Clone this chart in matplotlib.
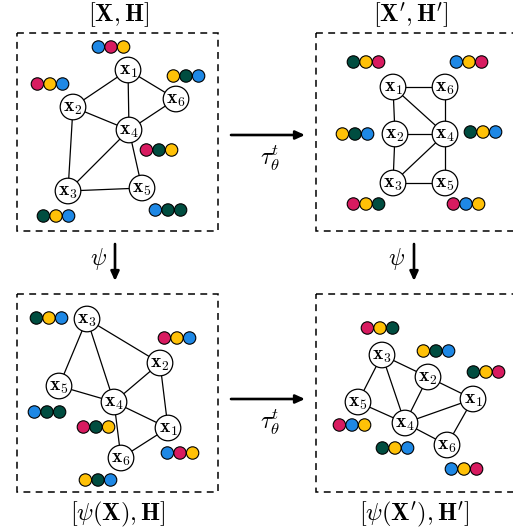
import matplotlib
matplotlib.use("Agg")
import matplotlib.pyplot as plt
from matplotlib.patches import Circle, Rectangle

plt.rcParams["mathtext.fontset"] = "cm"
plt.rcParams["font.family"] = "serif"

BLUE, PINK, YELLOW, GREEN = "#1E88E5", "#D81B60", "#FFC107", "#004D40"

# Node centres (pixel space, y downwards) for each of the four graphs
nodes_tl = {1: (128, 70), 2: (73, 107), 3: (68, 191), 4: (129, 130), 5: (142, 188), 6: (176, 99)}
nodes_tr = {1: (393, 87), 2: (395, 134), 3: (393, 183), 4: (445, 134), 5: (445, 183), 6: (445, 87)}
nodes_bl = {1: (168, 428), 2: (160, 363), 3: (87, 319), 4: (114, 402), 5: (59, 386), 6: (121, 458)}
nodes_br = {1: (473, 399), 2: (428, 377), 3: (382, 355), 4: (405, 423), 5: (358, 402), 6: (447, 445)}

edges_tl = [(1, 2), (1, 4), (1, 6), (2, 4), (6, 4), (2, 3), (4, 3), (4, 5), (3, 5)]
edges_tr = [(1, 6), (1, 2), (1, 4), (6, 4), (2, 4), (2, 3), (3, 4), (4, 5), (3, 5)]
edges_bl = [(3, 2), (3, 5), (3, 4), (2, 4), (2, 1), (5, 4), (4, 1), (4, 6), (6, 1)]
edges_br = [(3, 2), (3, 5), (3, 4), (2, 1), (2, 4), (5, 4), (4, 1), (4, 6), (1, 6)]

# Feature triples: centre of the middle dot and the three colours
feats_tl = [((111, 47), [BLUE, PINK, YELLOW]), ((50, 84), [PINK, YELLOW, BLUE]),
            ((186, 76), [YELLOW, GREEN, BLUE]), ((159, 150), [PINK, GREEN, YELLOW]),
            ((56, 216), [GREEN, YELLOW, BLUE]), ((168, 210), [BLUE, GREEN, GREEN])]
feats_tr = [((366, 62), [GREEN, YELLOW, PINK]), ((469, 62), [BLUE, YELLOW, PINK]),
            ((355, 134), [YELLOW, GREEN, BLUE]), ((483, 132), [GREEN, YELLOW, BLUE]),
            ((366, 204), [PINK, YELLOW, GREEN]), ((466, 204), [PINK, BLUE, YELLOW])]
feats_bl = [((49, 318), [GREEN, YELLOW, BLUE]), ((177, 338), [PINK, YELLOW, BLUE]),
            ((47, 412), [BLUE, GREEN, GREEN]), ((96, 427), [PINK, GREEN, YELLOW]),
            ((180, 453), [BLUE, PINK, YELLOW]), ((98, 480), [YELLOW, GREEN, BLUE])]
feats_br = [((380, 328), [PINK, YELLOW, GREEN]), ((436, 351), [YELLOW, GREEN, BLUE]),
            ((486, 372), [GREEN, YELLOW, PINK]), ((352, 425), [PINK, BLUE, YELLOW]),
            ((395, 448), [GREEN, YELLOW, BLUE]), ((464, 469), [BLUE, YELLOW, PINK])]

titles = [(118, 15, r"$[\mathbf{X},\mathbf{H}]$"),
          (411, 15, r"$[\mathbf{X}',\mathbf{H}']$"),
          (118, 514, r"$[\psi(\mathbf{X}),\mathbf{H}]$"),
          (414, 514, r"$[\psi(\mathbf{X}'),\mathbf{H}']$")]

boxes = [(17, 33), (316, 33), (17, 294), (316, 294)]
BOX_W, BOX_H = 201, 198

fig = plt.figure(figsize=(5.13, 5.31), dpi=100)
ax = fig.add_axes([0, 0, 1, 1])
ax.set_xlim(0, 513)
ax.set_ylim(531, 0)
ax.axis("off")

NODE_R = 12.8
DOT_R = 6.2
DOT_GAP = 12.6

for x0, y0 in boxes:
    ax.add_patch(Rectangle((x0, y0), BOX_W, BOX_H, fill=False, lw=1.1,
                           ls=(0, (4.5, 3.5)), ec="black", zorder=1))

def draw_graph(nodes, edges, feats):
    for a, b in edges:
        (xa, ya), (xb, yb) = nodes[a], nodes[b]
        ax.plot([xa, xb], [ya, yb], color="black", lw=0.9, zorder=2)
    for k, (x, y) in nodes.items():
        ax.add_patch(Circle((x, y), NODE_R, fc="white", ec="black", lw=0.9, zorder=3))
        ax.text(x, y + 1, r"$\mathbf{x}_{%d}$" % k, ha="center", va="center",
                fontsize=14, zorder=4)
    for (cx, cy), cols in feats:
        for i, c in enumerate(cols):
            ax.add_patch(Circle((cx + (i - 1) * DOT_GAP, cy), DOT_R, fc=c,
                                ec="black", lw=0.8, zorder=3))

draw_graph(nodes_tl, edges_tl, feats_tl)
draw_graph(nodes_tr, edges_tr, feats_tr)
draw_graph(nodes_bl, edges_bl, feats_bl)
draw_graph(nodes_br, edges_br, feats_br)

for x, y, s in titles:
    ax.text(x, y, s, ha="center", va="center", fontsize=17.5)

arrow = dict(arrowstyle="-|>,head_length=0.55,head_width=0.25", lw=1.9,
             color="black", shrinkA=0, shrinkB=0)
# horizontal transformation arrows
for y in (135, 399):
    ax.annotate("", xy=(305, y), xytext=(231, y), arrowprops=arrow)
    ax.text(270, y + 23, r"$\tau_\theta^t$", ha="center", va="center", fontsize=17)
# vertical psi arrows
for x, lx in ((115, 98), (414, 397)):
    ax.annotate("", xy=(x, 281), xytext=(x, 244), arrowprops=arrow)
    ax.text(lx, 259, r"$\psi$", ha="center", va="center", fontsize=17)

fig.savefig("out.png", dpi=100)
